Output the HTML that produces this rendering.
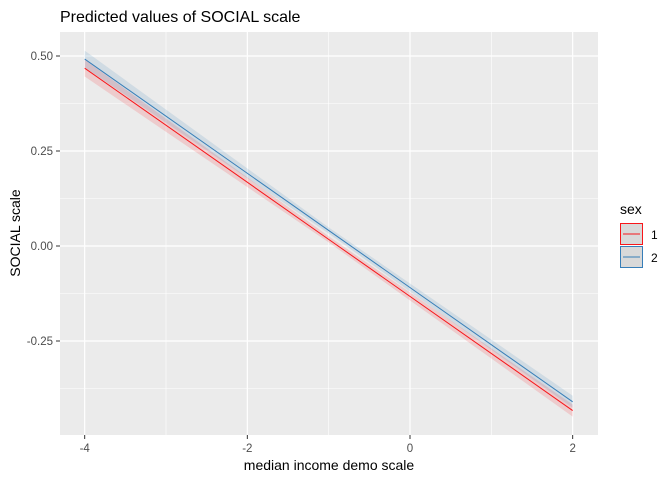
<!DOCTYPE html>
<html><head><meta charset="utf-8"><style>
body{margin:0;background:#fff;font-family:"Liberation Sans",Arial,sans-serif}
</style></head><body>
<svg width="672" height="480" xmlns="http://www.w3.org/2000/svg" id="c" font-family="Liberation Sans, Arial, sans-serif">
<rect x="60" y="32" width="538" height="403" fill="#ebebeb"/>
<g id="grid"></g>
<g id="marks"></g>
<g id="axes"></g>
<text x="60" y="22" font-size="16" fill="#000">Predicted values of SOCIAL scale</text>
<text x="329" y="470" font-size="14" text-anchor="middle">median income demo scale</text>
<text transform="translate(20,233) rotate(-90)" font-size="14" text-anchor="middle">SOCIAL scale</text>
<g>
<text x="620" y="214" font-size="14">sex</text>
<g>
<rect x="620.5" y="223.5" width="22" height="21" fill="#d9d9d9" stroke="#f8161a" stroke-width="1"/>
<line x1="623" y1="234" x2="640" y2="234" stroke="#f8161a"/>
<text x="651" y="239" font-size="12">1</text></g>
<g>
<rect x="620.5" y="246.5" width="22" height="21" fill="#d9d9d9" stroke="#377eb8" stroke-width="1"/>
<line x1="623" y1="257" x2="640" y2="257" stroke="#377eb8"/>
<text x="651" y="262" font-size="12">2</text></g>
</g>
</svg>
<script>
const xs=[-4,-1,2];
const fit1=[0.468,0.0175,-0.433];
const lo1=[0.446,0.0095,-0.449];
const hi1=[0.490,0.0255,-0.417];
const fit2=[0.492,0.041,-0.410];
const lo2=[0.470,0.033,-0.426];
const hi2=[0.514,0.049,-0.394];
const xTicks=[-4,-2,0,2];
const yTicks=[-0.25,0,0.25,0.5];
const yLabels=["-0.25","0.00","0.25","0.50"];
const X=v=>410+v*81.33;
const Y=v=>246-v*380;
const NS="http://www.w3.org/2000/svg";
function mk(p,t,a){const e=document.createElementNS(NS,t);for(const k in a)e.setAttribute(k,a[k]);document.getElementById(p).appendChild(e);return e;}
[-3,-1,1].forEach(v=>{const e=mk('grid','line',{x1:X(v),x2:X(v),y1:32,y2:435,stroke:'#fff','stroke-width':0.6});

});
[-0.375,-0.125,0.125,0.375].forEach(v=>{const e=mk('grid','line',{x1:60,x2:598,y1:Y(v),y2:Y(v),stroke:'#fff','stroke-width':0.6});

});
xTicks.forEach(v=>{const e=mk('grid','line',{x1:X(v),x2:X(v),y1:32,y2:435,stroke:'#fff','stroke-width':1.2});


const t=mk('axes','line',{x1:X(v),x2:X(v),y1:435,y2:439,stroke:'#333'});


const l=mk('axes','text',{x:X(v),y:452,'font-size':11.5,fill:'#4d4d4d','text-anchor':'middle'});l.textContent=v;

});
yTicks.forEach((v,i)=>{const e=mk('grid','line',{x1:60,x2:598,y1:Y(v),y2:Y(v),stroke:'#fff','stroke-width':1.2});


const t=mk('axes','line',{x1:56,x2:60,y1:Y(v),y2:Y(v),stroke:'#333'});


const l=mk('axes','text',{x:53,y:Y(v)+4,'font-size':11.5,fill:'#4d4d4d','text-anchor':'end'});l.textContent=yLabels[i];

});
function band(lo,hi,col,name){const pts=xs.map((x,i)=>X(x)+','+Y(hi[i])).concat(xs.map((x,i)=>X(x)+','+Y(lo[i])).reverse());
const e=mk('marks','polygon',{points:pts.join(' '),fill:col,opacity:0.15});

}
function line(f,col,name){const e=mk('marks','polyline',{points:xs.map((x,i)=>X(x)+','+Y(f[i])).join(' '),fill:'none',stroke:col,'stroke-width':1});

}
band(lo1,hi1,'#f8161a','ci-band-sex-1');
band(lo2,hi2,'#377eb8','ci-band-sex-2');
line(fit1,'#f8161a','line-sex-1');
line(fit2,'#377eb8','line-sex-2');
</script>
</body></html>
